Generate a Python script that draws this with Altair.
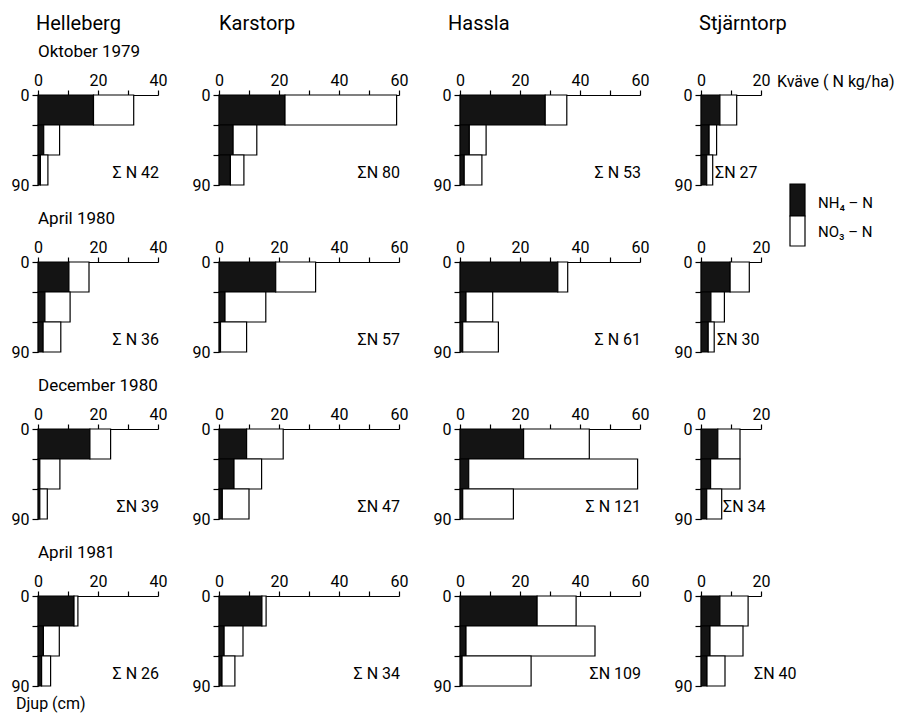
import altair as alt
import pandas as pd

# Sites (columns) and sampling dates (rows)
sites = ["Helleberg", "Karstorp", "Hassla", "Stjärntorp"]
dates = ["Oktober 1979", "April 1980", "December 1980", "April 1981"]

# Soil layers, depth in cm
depth_top = [0, 30, 60]
depth_bottom = [30, 60, 90]

# Upper end of the nitrogen axis for each site (kg/ha)
axis_max = [40, 60, 60, 20]

# NH4-N and NO3-N (kg/ha) per date, per layer 0-30 / 30-60 / 60-90 cm
nh4_helleberg = [[18.5, 1.9, 0.8], [10.3, 2.3, 1.7], [17.3, 0.6, 0.6], [12.0, 1.8, 1.2]]
no3_helleberg = [[13.4, 5.3, 2.5], [6.7, 8.4, 5.9], [6.9, 6.7, 2.5], [1.3, 5.3, 3.0]]

nh4_karstorp = [[22.0, 4.7, 3.8], [18.9, 2.0, 0.5], [9.2, 5.0, 1.1], [14.3, 1.7, 1.0]]
no3_karstorp = [[37.2, 7.9, 4.5], [13.3, 13.6, 8.7], [12.2, 9.2, 8.9], [1.4, 6.3, 4.3]]

nh4_hassla = [[28.4, 3.1, 1.4], [32.6, 2.0, 0.9], [21.2, 2.9, 0.9], [25.7, 2.0, 0.7]]
no3_hassla = [[7.2, 5.6, 5.9], [3.3, 8.9, 11.9], [21.9, 56.3, 16.9], [13.0, 43.0, 23.0]]

nh4_stjarntorp = [[6.3, 2.7, 1.9], [9.7, 3.3, 2.4], [5.6, 3.2, 1.9], [6.3, 3.0, 2.0]]
no3_stjarntorp = [[5.6, 2.5, 2.0], [6.4, 4.5, 2.0], [7.4, 9.8, 5.0], [9.4, 11.0, 6.0]]

# Total nitrogen 0-90 cm, as printed beside each profile
sum_n_helleberg = ["Σ N 42", "Σ N 36", "ΣN 39", "Σ N 26"]
sum_n_karstorp = ["ΣN 80", "ΣN 57", "ΣN 47", "Σ N 34"]
sum_n_hassla = ["Σ N 53", "Σ N 61", "Σ N 121", "ΣN 109"]
sum_n_stjarntorp = ["ΣN 27", "ΣN 30", "ΣN 34", "ΣN 40"]

NH4 = [nh4_helleberg, nh4_karstorp, nh4_hassla, nh4_stjarntorp]
NO3 = [no3_helleberg, no3_karstorp, no3_hassla, no3_stjarntorp]
SUM_N = [sum_n_helleberg, sum_n_karstorp, sum_n_hassla, sum_n_stjarntorp]

FONT = "Roboto"
PX_PER_KG = 3.0
PANEL_H = 90
DARK = "#141414"

# where the total label sits in the narrow Stjärntorp panels (px from left)
stj_label_x = [14, 16, 22, 53]


def text_layer(text, x, y, size, align="left"):
    return alt.Chart(pd.DataFrame({"t": [text]})).mark_text(
        align=align, baseline="middle", font=FONT, fontSize=size, color="black"
    ).encode(x=alt.value(x), y=alt.value(y), text="t:N")


def panel(si, di):
    xmax = axis_max[si]
    a = NH4[si][di]
    b = NO3[si][di]
    recs = []
    for k in range(3):
        recs.append(dict(part="NH4", x0=0.0, x1=a[k], top=depth_top[k], bottom=depth_bottom[k]))
        recs.append(dict(part="NO3", x0=a[k], x1=a[k] + b[k], top=depth_top[k], bottom=depth_bottom[k]))
    df = pd.DataFrame(recs)
    w = xmax * PX_PER_KG

    xaxis = alt.Axis(
        orient="top", values=list(range(0, xmax + 1, 10)),
        labelExpr="datum.value % 20 == 0 ? datum.label : ''",
        title=None, grid=False, tickSize=5, labelPadding=2,
        labelFont=FONT, labelFontSize=16, labelColor="black",
        domainColor="black", tickColor="black", domainWidth=1.2, tickWidth=1.2,
        labelFlush=False, labelOverlap=False,
    )
    yaxis = alt.Axis(
        values=[0, 30, 60, 90],
        labelExpr="datum.value == 0 || datum.value == 90 ? datum.label : ''",
        title=None, grid=False, tickSize=6, labelPadding=3,
        labelFont=FONT, labelFontSize=16, labelColor="black",
        domainColor="black", tickColor="black", domainWidth=1.2, tickWidth=1.2,
        labelOverlap=False,
    )
    bars = alt.Chart(df).mark_bar(stroke="black", strokeWidth=1.2).encode(
        x=alt.X("x0:Q", scale=alt.Scale(domain=[0, xmax], nice=False, zero=True), axis=xaxis),
        x2="x1:Q",
        y=alt.Y("top:Q", scale=alt.Scale(domain=[0, 90], reverse=True, nice=False), axis=yaxis),
        y2="bottom:Q",
        fill=alt.Fill("part:N", scale=alt.Scale(domain=["NH4", "NO3"], range=[DARK, "#ffffff"]), legend=None),
    )

    layers = [bars]
    # total N
    if si < 3:
        layers.append(text_layer(SUM_N[si][di], w + 1, 78, 16, align="right"))
    else:
        layers.append(text_layer(SUM_N[si][di], stj_label_x[di], 78, 16))

    # date heading at the left of each row
    if si == 0:
        layers.append(text_layer(dates[di], 0, -43, 17))
    # site headings over the first row
    if di == 0:
        offs = [-2, 0, -12, -2]
        layers.append(text_layer(sites[si], offs[si], -71, 20))
    # axis unit and legend beside the top-right panel
    if si == 3 and di == 0:
        layers.append(text_layer("Kväve ( N kg/ha)", 76, -13, 16))
        legend_rect = lambda y0, y1, fill: alt.Chart(pd.DataFrame({"t": [0]})).mark_rect(
            fill=fill, stroke="black", strokeWidth=1.2
        ).encode(x=alt.value(89), x2=alt.value(104), y=alt.value(y0), y2=alt.value(y1))
        layers.append(legend_rect(89, 121, DARK))
        layers.append(legend_rect(121, 151, "#ffffff"))
        layers.append(text_layer("NH₄ – N", 117, 108, 15))
        layers.append(text_layer("NO₃ – N", 117, 137, 15))
    # depth unit under the bottom-left panel
    if si == 0 and di == 3:
        layers.append(text_layer("Djup (cm)", -22, 108, 16))

    return alt.layer(*layers).properties(width=w, height=PANEL_H)


rows = [
    alt.hconcat(*[panel(si, di) for si in range(4)], spacing=61, bounds="flush")
    for di in range(4)
]

# nested rows report no height under flush bounds, so the gap is top-to-top
chart = alt.vconcat(*rows, spacing=167, bounds="flush").properties(
    padding={"left": 11, "top": 14, "right": 0, "bottom": 5},
    background="white",
).configure_view(stroke=None)

chart.save("out.html", embed_options={"renderer": "svg", "actions": False})
